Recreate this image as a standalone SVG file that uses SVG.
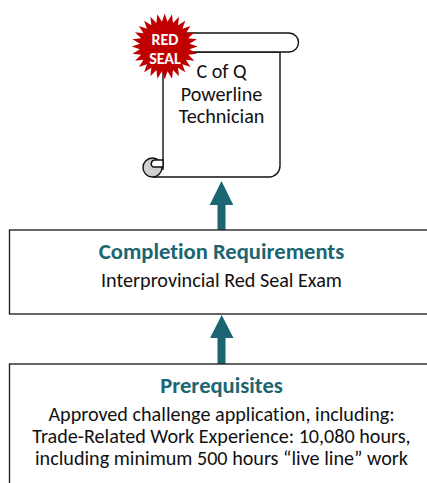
<svg xmlns="http://www.w3.org/2000/svg" width="427" height="483" viewBox="0 0 427 483">
<style>
text{font-family:Carlito,Lato,"Liberation Sans",sans-serif;text-anchor:middle;font-variant-ligatures:none}
.b{fill:#fff;stroke:#262626;stroke-width:1.4}
.s{fill:#fff;stroke:#111;stroke-width:1.4}
.h{font-size:22.600px;font-weight:700;fill:#1b6672}
.t{font-size:20.150px;fill:#111}
.w{font-size:16px;font-weight:700;fill:#fff}
</style>
<rect width="427" height="483" fill="#fff"/>
<g id="connectors" fill="#1b6672">
<path d="M217.500 230V205H209.700L221.500 181L233.300 205H225.500V230Z"/>
<path d="M217.500 364V338H210L221.700 315L233.500 338H225.500V364Z"/>
</g>
<g id="certificate">
<path class="s" d="M163 52V170M163 52H280V166A11 11 0 0 1 269 177H153"/>
<path class="s" d="M170 33H289A9.500 9.500 0 0 1 289 52H163"/>
<circle class="s" cx="152.500" cy="167.500" r="9.500" style="fill:#d0d0d0"/>
<path class="s" d="M153 167H163V160H155A3.800 3.800 0 0 0 153 167Z"/>
<text class="t" x="221.500" y="78">C of Q</text>
<text class="t" x="221.500" y="100.500">Powerline</text>
<text class="t" x="221.500" y="122.500">Technician</text>
</g>
<g id="red-seal">
<polygon fill="#c00000" transform="translate(164.700,46.500)" points="33,0 24.800,2.800 32.200,7.300 23.600,8.300 29.700,14.300 21.200,13.300 25.800,20.600 17.700,17.700 20.600,25.800 13.300,21.200 14.300,29.700 8.300,23.600 7.300,32.200 2.800,24.800 0,33 -2.800,24.800 -7.300,32.200 -8.300,23.600 -14.300,29.700 -13.300,21.200 -20.600,25.800 -17.700,17.700 -25.800,20.600 -21.200,13.300 -29.700,14.300 -23.600,8.300 -32.200,7.300 -24.800,2.800 -33,0 -24.800,-2.800 -32.200,-7.300 -23.600,-8.300 -29.700,-14.300 -21.200,-13.300 -25.800,-20.600 -17.700,-17.700 -20.600,-25.800 -13.300,-21.200 -14.300,-29.700 -8.300,-23.600 -7.300,-32.200 -2.800,-24.800 0,-33 2.800,-24.800 7.300,-32.200 8.300,-23.600 14.300,-29.700 13.300,-21.200 20.600,-25.800 17.700,-17.700 25.800,-20.600 21.200,-13.300 29.700,-14.300 23.600,-8.300 32.200,-7.300 24.800,-2.800"/>
<text class="w" x="165" y="45">RED</text>
<text class="w" x="165" y="64">SEAL</text>
</g>
<g id="completion">
<rect class="b" x="9.500" y="230" width="430" height="84"/>
<text class="h" x="221.500" y="259">Completion Requirements</text>
<text class="t" x="221.500" y="286.500">Interprovincial Red Seal Exam</text>
</g>
<g id="prerequisites">
<rect class="b" x="9.500" y="364" width="430" height="130"/>
<text class="h" x="221.500" y="393">Prerequisites</text>
<text class="t" x="221.500" y="420.500">Approved challenge application, including:</text>
<text class="t" x="221.500" y="442.500">Trade-Related Work Experience: 10,080 hours,</text>
<text class="t" x="221.500" y="465">including minimum 500 hours “live line” work</text>
</g>
</svg>
